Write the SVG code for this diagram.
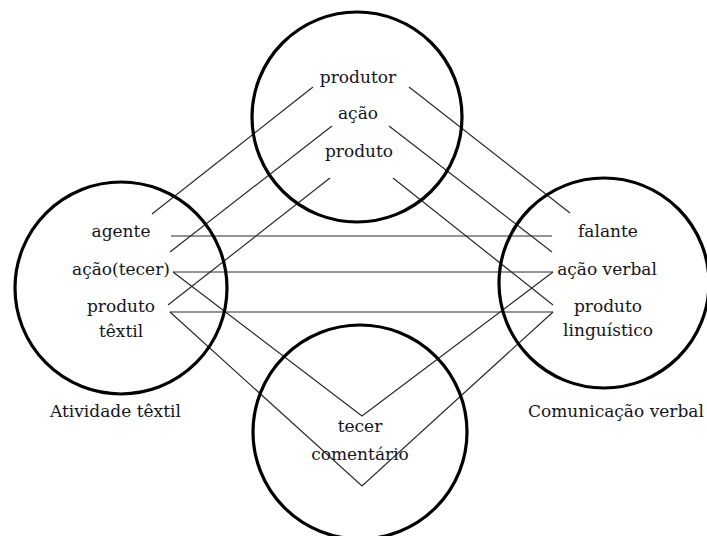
<svg xmlns="http://www.w3.org/2000/svg" width="707" height="536" viewBox="0 0 707 536">
  <style>
    .ring { fill: none; stroke: #000; stroke-width: 3.2; }
    .link { fill: none; stroke: #2a2a2a; stroke-width: 1.2; }
    text { font-family: "DejaVu Serif", "Liberation Serif", serif; font-size: 17px; fill: #14141c; text-anchor: middle; }
    .caption { text-anchor: start; }
  </style>
  <rect width="707" height="536" fill="#fff"/>

  <!-- connectors between the four circles -->
  <g id="connectors">
    <!-- top circle to left circle -->
    <line class="link" x1="313" y1="87" x2="152" y2="214"/>
    <line class="link" x1="332" y1="126" x2="170" y2="252"/>
    <line class="link" x1="330" y1="178" x2="168" y2="305"/>
    <!-- top circle to right circle -->
    <line class="link" x1="409" y1="87" x2="570" y2="213"/>
    <line class="link" x1="389" y1="126" x2="552" y2="252"/>
    <line class="link" x1="393" y1="178" x2="553" y2="305"/>
    <!-- left circle to right circle -->
    <line class="link" x1="171" y1="236" x2="552" y2="236"/>
    <line class="link" x1="173" y1="272" x2="553" y2="272"/>
    <line class="link" x1="170" y1="312" x2="553" y2="312"/>
    <!-- V shapes through the bottom circle -->
    <polyline class="link" points="173,272 362,416 553,272"/>
    <polyline class="link" points="170,312 362,486 553,312"/>
  </g>

  <g id="node-top">
    <circle class="ring" cx="357" cy="117" r="105"/>
    <text x="358" y="83">produtor</text>
    <text x="358" y="119">ação</text>
    <text x="359" y="157">produto</text>
  </g>

  <g id="node-left">
    <circle class="ring" cx="121" cy="288" r="106"/>
    <text x="121" y="237">agente</text>
    <text x="121" y="275">ação(tecer)</text>
    <text x="121" y="312">produto</text>
    <text x="121" y="337">têxtil</text>
    <text class="caption" x="50" y="417">Atividade têxtil</text>
  </g>

  <g id="node-right">
    <circle class="ring" cx="604" cy="283" r="105"/>
    <text x="608" y="237">falante</text>
    <text x="607" y="275">ação verbal</text>
    <text x="608" y="312">produto</text>
    <text x="608" y="336">linguístico</text>
    <text class="caption" x="528" y="417">Comunicação verbal</text>
  </g>

  <g id="node-bottom">
    <circle class="ring" cx="360" cy="432" r="107"/>
    <text x="360" y="432">tecer</text>
    <text x="360" y="460">comentário</text>
  </g>
</svg>
